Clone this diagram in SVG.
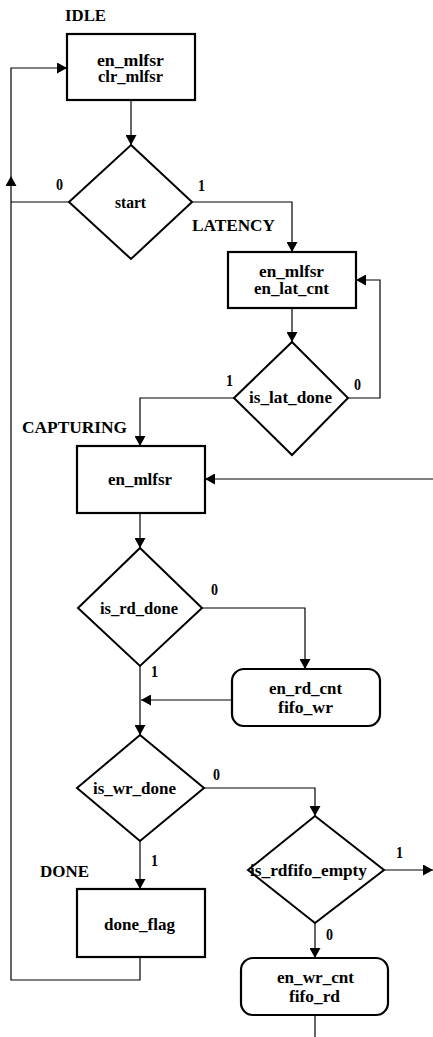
<svg xmlns="http://www.w3.org/2000/svg" width="433" height="1037" viewBox="0 0 433 1037">
<style>
.box{fill:#fff;stroke:#000;stroke-width:2.2}
.dia{fill:#fff;stroke:#000;stroke-width:2}
.c{fill:none;stroke:#000;stroke-width:1.2}
text{font-family:"Liberation Serif","Times New Roman",serif;font-weight:bold;font-size:16px;fill:#000}
</style>
<defs>
<marker id="ah" markerWidth="11" markerHeight="11" refX="10" refY="5.5" orient="auto" markerUnits="userSpaceOnUse"><path d="M0,0 L10,5.5 L0,11 z" fill="#000"/></marker>
</defs>
<rect width="433" height="1037" fill="#fff"/>
<g id="connectors">
<path class="c" d="M131,100 V145" marker-end="url(#ah)"/>
<path class="c" d="M69,202 H11"/>
<path class="c" d="M140,957 V980 H11 V176" marker-end="url(#ah)"/>
<path class="c" d="M11,176 V68 H67" marker-end="url(#ah)"/>
<path class="c" d="M192,202 H292 V252" marker-end="url(#ah)"/>
<path class="c" d="M292,308 V342" marker-end="url(#ah)"/>
<path class="c" d="M348,398 H380 V280 H356" marker-end="url(#ah)"/>
<path class="c" d="M234,398 H140 V446" marker-end="url(#ah)"/>
<path class="c" d="M140,513 V548" marker-end="url(#ah)"/>
<path class="c" d="M433,479 H205" marker-end="url(#ah)"/>
<path class="c" d="M202,608 H305 V669" marker-end="url(#ah)"/>
<path class="c" d="M140,666 V735" marker-end="url(#ah)"/>
<path class="c" d="M232,700 H141" marker-end="url(#ah)"/>
<path class="c" d="M204,788 H315 V816" marker-end="url(#ah)"/>
<path class="c" d="M140,841 V889" marker-end="url(#ah)"/>
<path class="c" d="M384,870 H433" marker-end="url(#ah)"/>
<path class="c" d="M315,923 V958" marker-end="url(#ah)"/>
<path class="c" d="M315,1015 V1037"/>
<text x="56" y="190" textLength="7" lengthAdjust="spacingAndGlyphs">0</text>
<text x="198" y="191" textLength="7" lengthAdjust="spacingAndGlyphs">1</text>
<text x="226" y="386" textLength="7" lengthAdjust="spacingAndGlyphs">1</text>
<text x="354" y="390" textLength="7" lengthAdjust="spacingAndGlyphs">0</text>
<text x="211" y="595" textLength="7" lengthAdjust="spacingAndGlyphs">0</text>
<text x="151" y="677" textLength="7" lengthAdjust="spacingAndGlyphs">1</text>
<text x="213" y="780" textLength="7" lengthAdjust="spacingAndGlyphs">0</text>
<text x="151" y="866" textLength="7" lengthAdjust="spacingAndGlyphs">1</text>
<text x="396" y="858" textLength="7" lengthAdjust="spacingAndGlyphs">1</text>
<text x="326" y="940" textLength="7" lengthAdjust="spacingAndGlyphs">0</text>
</g>
<g id="idle">
<text x="65" y="21" textLength="41" lengthAdjust="spacingAndGlyphs">IDLE</text>
<rect class="box" x="67" y="34" width="128" height="66"/>
<text x="97" y="66" textLength="67" lengthAdjust="spacingAndGlyphs">en_mlfsr</text>
<text x="98" y="82" textLength="65" lengthAdjust="spacingAndGlyphs">clr_mlfsr</text>
</g>
<g id="start">
<polygon class="dia" points="131,145 192,202 131,259 69,202"/>
<text x="115" y="208" textLength="31" lengthAdjust="spacingAndGlyphs">start</text>
</g>
<g id="latency">
<text x="192" y="231" textLength="83" lengthAdjust="spacingAndGlyphs">LATENCY</text>
<rect class="box" x="228" y="252" width="128" height="56"/>
<text x="259" y="277" textLength="65" lengthAdjust="spacingAndGlyphs">en_mlfsr</text>
<text x="254" y="294" textLength="75" lengthAdjust="spacingAndGlyphs">en_lat_cnt</text>
</g>
<g id="is_lat_done">
<polygon class="dia" points="292,342 348,398 292,455 234,398"/>
<text x="249" y="403" textLength="83" lengthAdjust="spacingAndGlyphs">is_lat_done</text>
</g>
<g id="capturing">
<text x="22" y="433" textLength="105" lengthAdjust="spacingAndGlyphs">CAPTURING</text>
<rect class="box" x="77" y="446" width="128" height="67"/>
<text x="108" y="485" textLength="64" lengthAdjust="spacingAndGlyphs">en_mlfsr</text>
</g>
<g id="is_rd_done">
<polygon class="dia" points="140,548 202,608 140,666 78,608"/>
<text x="100" y="614" textLength="78" lengthAdjust="spacingAndGlyphs">is_rd_done</text>
</g>
<g id="en_rd_cnt">
<rect class="box" x="232" y="669" width="148" height="57" rx="12"/>
<text x="269" y="694" textLength="73" lengthAdjust="spacingAndGlyphs">en_rd_cnt</text>
<text x="278" y="713" textLength="55" lengthAdjust="spacingAndGlyphs">fifo_wr</text>
</g>
<g id="is_wr_done">
<polygon class="dia" points="140,735 204,788 140,841 77,788"/>
<text x="93" y="794" textLength="83" lengthAdjust="spacingAndGlyphs">is_wr_done</text>
</g>
<g id="is_rdfifo_empty">
<polygon class="dia" points="315,816 384,870 315,923 248,870"/>
<text x="250" y="876" textLength="117" lengthAdjust="spacingAndGlyphs">is_rdfifo_empty</text>
</g>
<g id="done">
<text x="40" y="877" textLength="49" lengthAdjust="spacingAndGlyphs">DONE</text>
<rect class="box" x="77" y="889" width="128" height="68"/>
<text x="104" y="930" textLength="71" lengthAdjust="spacingAndGlyphs">done_flag</text>
</g>
<g id="en_wr_cnt">
<rect class="box" x="241" y="958" width="147" height="57" rx="12"/>
<text x="277" y="983" textLength="77" lengthAdjust="spacingAndGlyphs">en_wr_cnt</text>
<text x="289" y="1002" textLength="51" lengthAdjust="spacingAndGlyphs">fifo_rd</text>
</g>
</svg>
